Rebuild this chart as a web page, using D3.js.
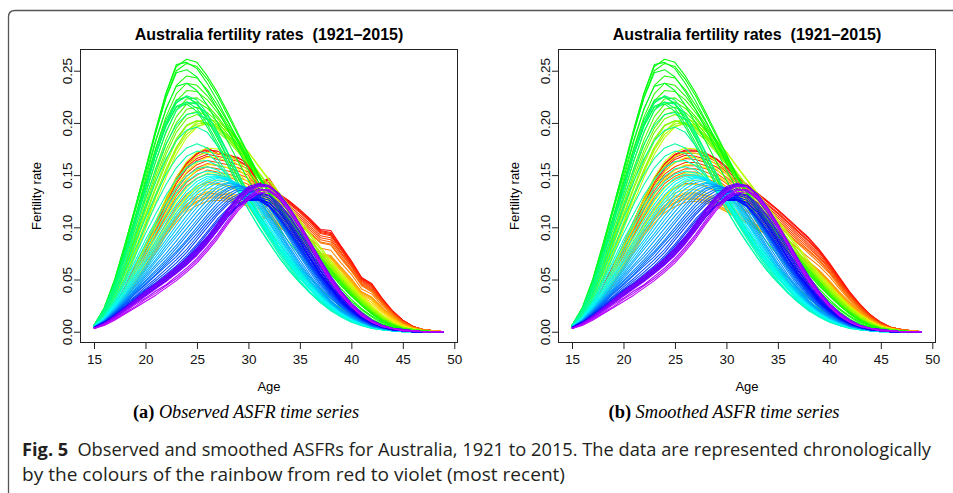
<!DOCTYPE html>
<html><head><meta charset="utf-8">
<script src="https://cdn.jsdelivr.net/npm/d3@7"></script>
<style>body{margin:0;background:#fff}svg text{font-family:"Liberation Sans",Arial,sans-serif}</style>
</head><body><svg id="c" width="953" height="493"></svg>
<script>
// Ages (single years) and calendar years
const ages = [15,16,17,18,19,20,21,22,23,24,25,26,27,28,29,30,31,32,33,34,35,36,37,38,39,40,41,42,43,44,45,46,47,48,49];
const firstYear = 1921, lastYear = 2015;
const xTicks = [15,20,25,30,35,40,45,50];
const yTicks = [0,0.05,0.10,0.15,0.20,0.25];
// Observed ASFR per 1000 women, one row per year 1921..2015, ages 15..49
const observed = [
[4,12,25,42,62,82,104,126,147,162,170,176,171,170,166,162,142,147,132,125,117,108,98,97,82,68,52,46,32,20,11,5,2,1,0],
[4,12,25,43,63,83,105,127,148,161,171,174,173,168,167,160,141,146,131,124,116,107,97,95,81,67,51,45,31,20,11,5,2,1,0],
[4,12,25,42,62,82,103,125,146,160,168,173,170,169,164,159,140,145,130,123,115,106,96,94,80,66,51,45,31,19,10,5,2,1,0],
[4,11,24,41,61,81,102,123,144,158,166,170,168,166,163,158,139,143,129,122,114,105,95,93,79,65,50,44,30,19,10,5,2,1,0],
[4,11,24,41,61,80,101,122,142,156,164,168,165,163,160,156,137,141,127,120,112,103,94,92,78,64,49,43,30,19,10,5,2,1,0],
[4,11,23,40,59,78,99,119,139,152,160,164,162,160,157,153,134,138,125,118,110,101,92,90,76,63,48,42,29,18,10,5,2,1,0],
[4,11,23,39,58,77,97,117,136,149,157,161,159,157,154,150,132,136,123,116,108,99,90,88,75,62,47,41,29,18,10,4,2,1,0],
[3,10,22,39,57,76,95,114,133,146,154,158,156,154,151,147,129,133,120,113,106,97,88,86,73,60,46,40,28,17,9,4,2,1,0],
[3,10,22,38,56,74,93,112,130,143,150,155,153,151,148,144,127,131,118,111,104,95,86,84,71,59,45,39,27,17,9,4,2,1,0],
[3,10,21,37,55,73,92,110,127,140,147,151,150,148,145,141,124,128,116,109,102,94,85,83,70,58,44,38,27,17,9,4,2,1,0],
[3,9,20,35,52,69,87,104,120,132,139,143,142,140,137,133,117,121,110,103,97,89,80,78,66,55,41,36,25,16,8,4,2,1,0],
[3,9,18,32,48,64,81,97,111,122,129,133,132,131,128,124,109,113,103,97,91,83,75,73,62,51,38,33,23,15,8,4,1,1,0],
[3,8,18,31,47,62,79,95,109,119,125,129,129,128,125,122,107,111,101,95,89,82,74,72,61,50,38,33,23,14,7,3,1,1,0],
[3,8,17,30,45,60,76,92,105,115,121,125,126,125,123,120,106,110,100,94,88,81,73,71,60,49,37,32,22,14,7,3,1,1,0],
[3,8,17,31,46,61,78,94,108,118,124,128,128,127,124,121,107,110,100,94,87,80,72,70,59,48,36,31,21,13,7,3,1,1,0],
[3,8,18,32,47,63,80,97,111,121,127,131,131,129,126,122,109,111,101,94,87,80,71,68,58,47,35,30,20,13,7,3,1,0,0],
[3,8,18,32,48,65,82,100,114,125,131,134,134,132,128,124,112,112,102,95,87,79,70,66,56,46,34,28,19,12,6,3,1,0,0],
[3,9,19,33,49,66,84,102,117,128,134,137,137,134,130,126,115,113,103,95,87,78,69,64,54,44,33,26,18,11,6,3,1,0,0],
[3,9,19,33,49,66,84,101,117,129,137,141,141,139,135,129,120,115,106,98,89,80,70,62,52,43,32,24,16,10,5,2,1,0,0],
[3,9,19,33,50,67,85,102,118,130,139,144,145,143,139,133,125,117,108,99,90,81,71,61,51,42,32,23,15,9,5,2,1,0,0],
[3,9,20,35,53,71,90,108,125,138,147,152,152,150,145,138,129,120,110,100,91,81,71,61,51,41,31,22,15,9,5,2,1,0,0],
[3,10,21,37,56,75,95,114,132,146,155,160,160,157,151,143,133,123,112,102,92,82,71,61,50,40,30,21,14,8,4,2,1,0,0],
[4,10,22,39,59,79,100,120,139,153,162,167,167,163,156,147,136,125,114,103,92,81,70,60,49,39,29,21,14,8,4,2,1,0,0],
[4,11,23,40,61,82,104,125,145,159,168,172,171,167,160,151,139,127,115,104,93,82,71,60,49,39,29,20,13,8,4,2,1,0,0],
[4,11,23,41,62,84,106,128,148,163,172,176,175,170,163,154,142,130,118,106,95,84,72,61,50,40,30,21,14,8,4,2,1,0,0],
[4,13,28,48,72,98,124,148,170,186,196,200,198,192,183,172,159,146,133,120,107,94,81,68,56,45,34,24,16,9,5,2,1,0,0],
[4,13,29,50,75,102,129,154,176,192,201,204,201,194,184,172,158,145,131,118,105,92,79,66,54,43,32,23,15,9,4,2,1,0,0],
[4,13,29,50,75,102,129,153,174,189,197,199,195,188,178,166,153,140,127,114,102,89,76,64,52,41,31,22,14,8,4,2,1,0,0],
[4,14,30,52,78,105,132,156,177,192,199,200,196,188,178,166,152,139,126,113,101,88,76,63,51,40,30,21,14,8,4,2,1,0,0],
[5,15,32,55,82,110,137,161,183,197,202,200,194,185,174,162,149,136,123,111,99,87,75,63,51,40,30,21,13,7,4,2,1,0,0],
[5,15,33,56,84,112,139,164,185,198,202,199,192,183,172,160,147,134,121,109,97,85,73,61,50,39,29,20,13,7,4,2,1,0,0],
[5,16,34,58,87,116,144,170,191,204,208,204,196,186,174,161,147,134,121,108,96,84,72,60,49,38,28,19,12,7,3,2,1,0,0],
[5,16,35,59,89,119,148,174,195,208,211,207,198,187,175,162,148,134,121,108,96,84,72,60,48,37,27,19,12,7,3,2,1,0,0],
[5,16,36,61,91,122,152,179,200,213,215,210,201,189,176,162,147,133,120,107,95,83,71,59,48,37,27,19,12,7,3,2,1,0,0],
[5,17,37,63,94,126,157,184,206,218,220,214,204,192,178,163,148,134,120,107,95,83,71,59,48,37,27,19,12,7,3,2,1,0,0],
[5,18,39,66,98,131,163,191,212,223,224,217,206,193,179,164,148,134,120,107,94,82,70,58,47,36,26,18,11,6,3,1,1,0,0],
[5,19,41,70,103,137,170,199,221,231,230,222,210,196,181,165,149,134,120,106,94,81,69,57,46,35,26,18,11,6,3,1,1,0,0],
[6,20,43,73,107,142,176,206,228,238,236,226,213,198,182,166,149,134,119,105,93,80,68,56,45,35,25,17,11,6,3,1,1,0,0],
[6,20,44,75,110,146,182,213,236,245,243,232,217,201,184,167,150,134,119,105,92,79,67,55,44,34,25,17,10,6,3,1,1,0,0],
[6,21,47,80,116,153,191,225,250,257,254,242,226,207,188,169,150,133,117,102,89,76,63,52,41,31,22,15,9,5,2,1,0,0,0],
[6,22,48,82,118,155,193,228,254,261,258,245,229,210,190,170,150,132,116,101,88,75,62,50,39,29,21,14,8,4,2,1,0,0,0],
[6,22,49,83,119,156,194,229,256,258,252,238,221,202,182,162,143,126,110,96,83,70,58,46,36,27,19,12,7,4,2,1,0,0,0],
[6,23,50,84,119,155,191,224,248,251,244,230,213,194,174,155,137,120,105,91,78,66,54,43,33,24,17,11,7,3,2,1,0,0,0],
[6,23,49,82,116,150,184,214,235,238,231,217,200,182,163,145,128,112,98,85,73,61,50,40,30,22,15,10,6,3,1,1,0,0,0],
[6,22,47,78,110,142,175,203,222,225,218,203,185,166,147,128,112,97,84,72,61,51,41,32,24,17,11,7,4,2,1,0,0,0,0],
[6,22,46,76,107,138,170,197,215,218,211,196,178,159,140,122,106,92,79,67,57,47,38,29,22,15,10,6,4,2,1,0,0,0,0],
[6,22,46,76,107,138,170,197,216,220,214,199,181,162,143,125,108,93,80,68,57,47,38,29,22,15,10,6,4,2,1,0,0,0,0],
[6,22,46,76,108,139,172,200,220,225,219,205,187,167,148,129,111,95,81,69,58,47,37,29,21,15,10,6,3,2,1,0,0,0,0],
[6,21,45,75,107,138,170,199,219,226,222,209,191,171,151,131,113,96,81,68,56,45,36,27,20,14,9,5,3,2,1,0,0,0,0],
[6,21,44,73,104,134,164,192,212,220,218,208,191,172,152,132,113,96,81,67,55,45,35,27,19,13,9,5,3,2,1,0,0,0,0],
[6,20,42,70,100,128,155,180,198,208,210,203,189,171,151,131,113,96,81,67,55,44,34,26,19,13,9,5,3,2,1,0,0,0,0],
[6,19,40,66,93,119,144,166,183,193,196,191,178,162,143,124,107,91,76,63,51,41,32,24,17,12,8,5,3,1,1,0,0,0,0],
[5,18,37,61,86,109,131,151,166,176,180,176,166,151,134,117,100,85,71,58,47,37,29,21,15,10,7,4,2,1,1,0,0,0,0],
[5,16,34,56,79,101,122,141,157,168,173,171,162,149,134,117,101,86,71,58,47,37,28,21,15,10,6,4,2,1,0,0,0,0,0],
[5,15,31,51,73,94,113,131,146,157,163,164,159,149,136,121,105,89,74,60,48,37,28,20,14,9,6,3,2,1,0,0,0,0,0],
[5,14,29,48,68,88,106,123,138,149,156,158,155,147,136,122,107,91,76,62,49,38,29,21,15,10,6,3,2,1,0,0,0,0,0],
[5,14,28,46,65,84,102,118,133,144,151,154,152,146,136,123,108,93,78,64,51,40,30,22,15,10,6,4,2,1,0,0,0,0,0],
[5,13,27,43,61,79,96,112,127,139,147,151,150,145,136,124,109,94,79,65,52,41,31,23,16,11,7,4,2,1,0,0,0,0,0],
[5,13,26,41,58,75,91,107,122,135,144,149,149,145,137,125,110,95,80,66,53,42,32,23,17,11,7,4,2,1,0,0,0,0,0],
[5,13,25,39,55,71,87,103,118,131,141,147,149,146,138,126,111,96,81,67,54,42,32,24,17,12,8,5,3,1,1,0,0,0,0],
[5,12,24,38,53,68,84,99,114,127,138,145,148,147,140,129,114,99,84,69,56,44,33,25,18,12,8,5,3,1,1,0,0,0,0],
[5,12,23,36,51,66,81,96,111,124,135,143,147,147,141,131,117,101,86,71,58,45,35,26,18,13,8,5,3,1,1,0,0,0,0],
[4,12,23,35,49,63,78,92,107,120,132,140,145,146,142,133,119,104,88,73,59,47,36,26,19,13,8,5,3,1,1,0,0,0,0],
[4,11,22,34,47,61,75,88,102,116,128,137,143,145,142,134,121,105,90,75,60,48,36,27,19,13,9,5,3,1,1,0,0,0,0],
[4,11,21,33,46,59,72,85,98,111,123,133,140,143,141,134,122,107,91,76,61,48,37,27,19,13,9,5,3,1,1,0,0,0,0],
[4,11,21,32,44,57,69,82,94,107,119,130,138,142,141,135,124,109,93,78,63,49,38,28,20,14,9,5,3,1,1,0,0,0,0],
[4,11,20,31,43,55,67,79,91,103,115,126,135,140,141,136,126,111,95,79,64,51,39,28,20,14,9,5,3,1,1,0,0,0,0],
[4,10,20,30,41,53,64,75,87,99,111,122,132,138,140,137,127,113,97,81,66,52,40,29,21,14,9,5,3,2,1,0,0,0,0],
[4,10,19,29,40,51,62,72,83,95,107,119,130,137,140,138,129,116,100,84,69,54,41,30,21,15,10,6,3,2,1,0,0,0,0],
[4,10,19,29,39,49,59,69,80,92,104,116,127,135,139,138,131,119,104,88,72,57,43,32,23,16,10,6,3,2,1,0,0,0,0],
[4,10,18,28,38,48,57,67,77,88,100,112,123,132,137,137,131,120,106,90,74,59,45,33,24,16,10,6,3,2,1,0,0,0,0],
[4,10,18,27,37,46,55,65,75,86,97,109,120,129,135,136,131,121,107,92,76,61,46,34,24,17,11,6,4,2,1,0,0,0,0],
[4,9,18,27,36,45,54,63,72,83,94,106,117,126,132,134,130,121,108,93,77,62,48,35,25,17,11,7,4,2,1,0,0,0,0],
[4,9,17,26,34,43,51,60,69,79,91,103,114,124,130,132,129,120,108,94,78,63,49,36,26,18,12,7,4,2,1,0,0,0,0],
[4,9,17,25,33,41,49,57,66,76,88,100,112,122,128,130,127,120,108,94,79,64,50,37,27,18,12,7,4,2,1,0,0,0,0],
[4,9,16,24,32,40,47,55,63,73,84,96,108,118,125,129,127,120,109,95,80,65,51,38,27,19,12,7,4,2,1,0,0,0,0],
[4,9,16,24,31,39,46,53,61,71,82,94,106,116,123,127,126,120,109,96,81,66,52,39,28,19,12,7,4,2,1,0,0,0,0],
[4,9,16,23,31,38,45,52,60,69,80,91,103,114,121,126,126,120,110,97,82,67,53,40,28,20,12,8,4,2,1,0,0,0,0],
[4,9,15,23,30,37,44,51,59,68,79,90,102,113,121,126,126,121,112,99,84,69,54,41,29,20,13,8,4,2,1,0,0,0,0],
[4,9,15,22,30,37,43,50,58,67,78,90,102,113,121,126,127,123,114,101,86,70,55,42,30,21,13,8,5,2,1,0,0,0,0],
[4,8,15,22,29,36,43,49,57,66,76,88,100,111,120,126,127,124,115,102,87,71,56,43,31,21,14,8,5,2,1,0,0,0,0],
[3,8,15,22,29,36,43,49,57,65,75,87,99,111,120,127,129,126,117,104,89,73,58,44,32,22,14,9,5,2,1,0,0,0,0],
[3,8,15,22,29,36,43,50,57,65,75,86,98,111,121,128,131,128,119,106,91,75,59,45,33,23,15,9,5,3,1,0,0,0,0],
[3,8,14,21,28,35,42,49,56,64,74,85,97,110,121,129,132,130,121,109,94,77,61,47,34,24,15,9,5,3,1,1,0,0,0],
[3,8,14,21,28,35,42,49,57,65,74,85,97,110,121,129,133,131,123,111,96,80,63,48,35,25,16,10,6,3,1,1,0,0,0],
[3,8,14,22,29,36,43,50,58,66,75,86,99,112,124,133,137,135,127,114,99,82,65,50,36,26,17,10,6,3,1,1,0,0,0],
[3,8,15,22,30,38,45,52,60,68,78,89,102,116,128,137,141,139,131,118,102,85,68,52,38,27,17,11,6,3,2,1,0,0,0],
[3,8,15,23,31,39,46,54,62,70,80,91,104,118,130,139,142,140,132,119,103,86,69,53,39,27,18,11,6,3,2,1,0,0,0],
[3,8,15,22,30,38,45,53,61,69,79,90,103,117,129,138,141,140,132,119,103,86,69,53,39,27,18,11,6,3,2,1,0,0,0],
[3,8,14,21,29,37,44,52,60,68,77,88,101,115,127,136,140,139,131,118,102,85,68,52,38,27,18,11,6,3,2,1,0,0,0],
[3,8,14,21,28,36,43,50,58,66,75,86,99,113,126,135,140,139,131,118,102,85,68,52,38,27,17,10,6,3,2,1,0,0,0],
[3,7,13,20,27,34,41,48,56,64,73,84,97,111,124,134,139,139,131,118,102,85,67,51,37,26,17,10,6,3,1,1,0,0,0],
[3,7,13,19,26,32,39,45,53,61,70,81,93,107,120,130,136,136,129,117,101,84,66,50,37,25,16,10,5,3,1,1,0,0,0],
[3,7,12,18,24,31,37,44,51,59,68,79,91,105,118,128,135,136,129,117,101,83,65,49,36,25,16,9,5,3,1,1,0,0,0],
[3,6,11,17,23,29,35,42,49,57,66,77,89,103,116,126,133,134,128,116,100,82,64,48,35,24,15,9,5,3,1,1,0,0,0]
];
// Smoothed ASFR per 1000: rows for 1921..1939, where it differs
// visibly from the observed rows; from 1940 on panel (b) reads the same as panel (a).
const smoothedEarly = [
[4,12,25,43,63,84,106,128,147,161,170,174,174,171,166,158,149,141,133,125,117,108,99,90,79,66,52,38,26,16,9,4,2,1,0],
[4,12,25,43,63,84,106,127,147,160,169,173,173,170,165,157,148,140,132,124,116,107,98,89,78,65,51,37,26,16,9,4,2,1,0],
[4,12,25,42,62,82,104,125,145,158,167,171,171,168,163,155,146,138,130,122,114,105,96,87,77,64,50,37,25,16,8,4,2,1,0],
[4,11,24,41,61,81,102,123,143,156,165,169,168,165,161,153,144,137,129,121,113,104,95,86,76,63,49,36,25,15,8,4,2,1,0],
[4,11,24,41,60,80,101,122,141,154,162,166,165,162,158,151,142,134,126,119,111,102,93,84,74,62,48,35,24,15,8,4,2,1,0],
[4,11,23,40,59,78,99,119,138,151,158,162,162,159,155,148,139,131,124,117,109,100,91,82,72,61,47,35,24,15,8,4,2,1,0],
[4,11,23,39,58,77,97,117,135,148,155,159,159,156,152,145,137,129,122,115,107,98,89,80,71,60,46,34,23,14,8,4,2,1,0],
[3,10,22,39,57,76,95,114,132,145,152,156,156,153,149,142,134,126,119,112,105,96,87,78,69,58,45,33,22,14,7,4,2,1,0],
[3,10,22,38,56,74,93,112,129,142,149,153,153,150,146,139,131,124,117,110,103,94,85,77,68,57,44,32,22,13,7,3,2,1,0],
[3,10,21,37,55,73,92,110,126,139,146,150,150,147,143,136,129,122,115,108,101,93,84,75,66,56,43,31,21,13,7,3,2,1,0],
[3,9,20,35,52,69,87,104,119,131,138,142,142,139,135,129,122,115,109,102,95,88,79,71,63,53,41,30,20,12,7,3,1,1,0],
[3,9,18,32,48,64,81,97,110,121,128,132,132,130,126,120,114,108,102,96,90,82,74,67,59,49,38,28,19,12,6,3,1,1,0],
[3,8,18,31,47,62,79,95,108,118,124,128,128,126,122,117,111,105,99,94,88,81,73,66,58,48,37,27,18,11,6,3,1,1,0],
[3,8,17,30,45,60,76,92,104,114,120,124,125,123,120,115,109,104,98,93,87,80,72,65,57,47,36,26,18,11,6,3,1,1,0],
[3,8,17,31,46,61,78,94,107,117,123,127,127,125,121,116,110,104,98,93,86,79,71,64,56,46,35,26,17,11,6,3,1,1,0],
[3,8,18,32,47,63,80,97,110,120,126,130,130,128,124,119,112,106,99,93,86,79,70,63,55,45,34,25,17,10,6,3,1,0,0],
[3,8,18,32,48,65,82,100,113,124,130,133,133,131,127,121,114,107,100,93,86,78,69,61,53,44,33,24,16,10,5,3,1,0,0],
[3,9,19,33,49,66,84,102,116,127,133,136,136,133,129,123,116,108,101,94,86,77,68,60,51,42,32,23,16,10,5,3,1,0,0],
[3,9,19,33,49,66,84,101,117,129,137,141,141,139,134,128,120,112,104,96,88,79,69,60,51,42,32,23,16,10,5,2,1,0,0]
];
const smoothed = observed.map((row, i) => i < smoothedEarly.length ? smoothedEarly[i] : row);
const nYears = lastYear - firstYear + 1;
const paletteN = Math.ceil(nYears * 1.25); // R rainbow(1.25 n), first n used

const title = "Australia fertility rates  (1921\u20132015)";
const W = 953, H = 493;
const svg = d3.select("#c");
svg.append("rect").attr("width", W).attr("height", H).attr("fill", "#fff");
svg.append("path").attr("d", "M8.5,493 L8.5,17 Q8.5,10.5 15,10.5 L953,10.5")
  .attr("fill", "none").attr("stroke", "#555").attr("stroke-width", 1.3);

function panel(left, series, letter, label) {
  const x = d3.scaleLinear().domain([13.64, 50.36]).range([left, left + 378]);
  const y = d3.scaleLinear().domain([-0.0108, 0.2708]).range([343, 49]);
  const g = svg.append("g");
  const line = d3.line().x((d, i) => x(ages[i])).y(d => y(d / 1000));
  series.forEach((s, i) => {
    g.append("path").attr("d", line(s)).attr("fill", "none")
      .attr("stroke", d3.hsl(i / paletteN * 360, 1, 0.5).formatHex())
      .attr("stroke-width", 1.05).attr("stroke-linejoin", "round");
  });
  g.append("rect").attr("x", left + 0.5).attr("y", 49.5).attr("width", 377).attr("height", 293)
    .attr("fill", "none").attr("stroke", "#222").attr("stroke-width", 1);
  const ax = g.append("g").attr("transform", "translate(0,343)")
    .call(d3.axisBottom(x).tickValues(xTicks).tickSize(6).tickPadding(5).tickFormat(d3.format("d")));
  ax.select(".domain").remove();
  ax.attr("font-size", 13.5).attr("font-family", null);
  ax.selectAll("line").attr("stroke", "#222");
  ax.selectAll("text").attr("fill", "#111");
  const ay = g.append("g").attr("transform", `translate(${left},0)`)
    .call(d3.axisLeft(y).tickValues(yTicks).tickSize(6).tickFormat(d3.format(".2f")));
  ay.select(".domain").remove();
  ay.attr("font-size", 13.5).attr("font-family", null);
  ay.selectAll("line").attr("stroke", "#222");
  ay.selectAll("text").attr("x", 0).attr("dy", null).attr("y", -8.5)
    .attr("transform", "rotate(-90)").attr("text-anchor", "middle").attr("fill", "#111");
  const cx = left + 189;
  g.append("text").attr("x", cx).attr("y", 39.5).attr("text-anchor", "middle")
    .attr("font-weight", "bold").attr("font-size", 16).style("white-space", "pre").text(title);
  g.append("text").attr("x", cx).attr("y", 390.5).attr("text-anchor", "middle").attr("font-size", 13).text("Age");
  g.append("text").attr("transform", `translate(${left - 39.4},196) rotate(-90)`)
    .attr("text-anchor", "middle").attr("font-size", 13).text("Fertility rate");
  const cap = g.append("text").attr("x", cx - 23).attr("y", 418).attr("text-anchor", "middle")
    .style("font-family", "'Liberation Serif','Times New Roman',serif").attr("font-size", 18);
  cap.append("tspan").attr("font-weight", "bold").text("(" + letter + ")");
  cap.append("tspan").attr("font-style", "italic").text(" " + label);
  const target = letter === "a" ? 226 : 231;
  cap.attr("textLength", target).attr("lengthAdjust", "spacingAndGlyphs");
}
panel(80, observed, "a", "Observed ASFR time series");
panel(558, smoothed, "b", "Smoothed ASFR time series");

// Figure caption
const capFont = "'Open Sans','Noto Sans',sans-serif";
const l1 = svg.append("text").attr("x", 22).attr("y", 455.5).attr("font-size", 18.5)
  .style("font-family", capFont).attr("fill", "#231f20");
l1.append("tspan").attr("font-weight", "bold").text("Fig. 5");
l1.append("tspan").text("\u2002Observed and smoothed ASFRs for Australia, 1921 to 2015. The data are represented chronologically");
const l2 = svg.append("text").attr("x", 22).attr("y", 481).attr("font-size", 18.5)
  .style("font-family", capFont).attr("fill", "#231f20")
  .text("by the colours of the rainbow from red to violet (most recent)");
l1.attr("textLength", 931 - 22).attr("lengthAdjust", "spacingAndGlyphs");
l2.attr("textLength", 565 - 22).attr("lengthAdjust", "spacingAndGlyphs");
</script></body></html>
